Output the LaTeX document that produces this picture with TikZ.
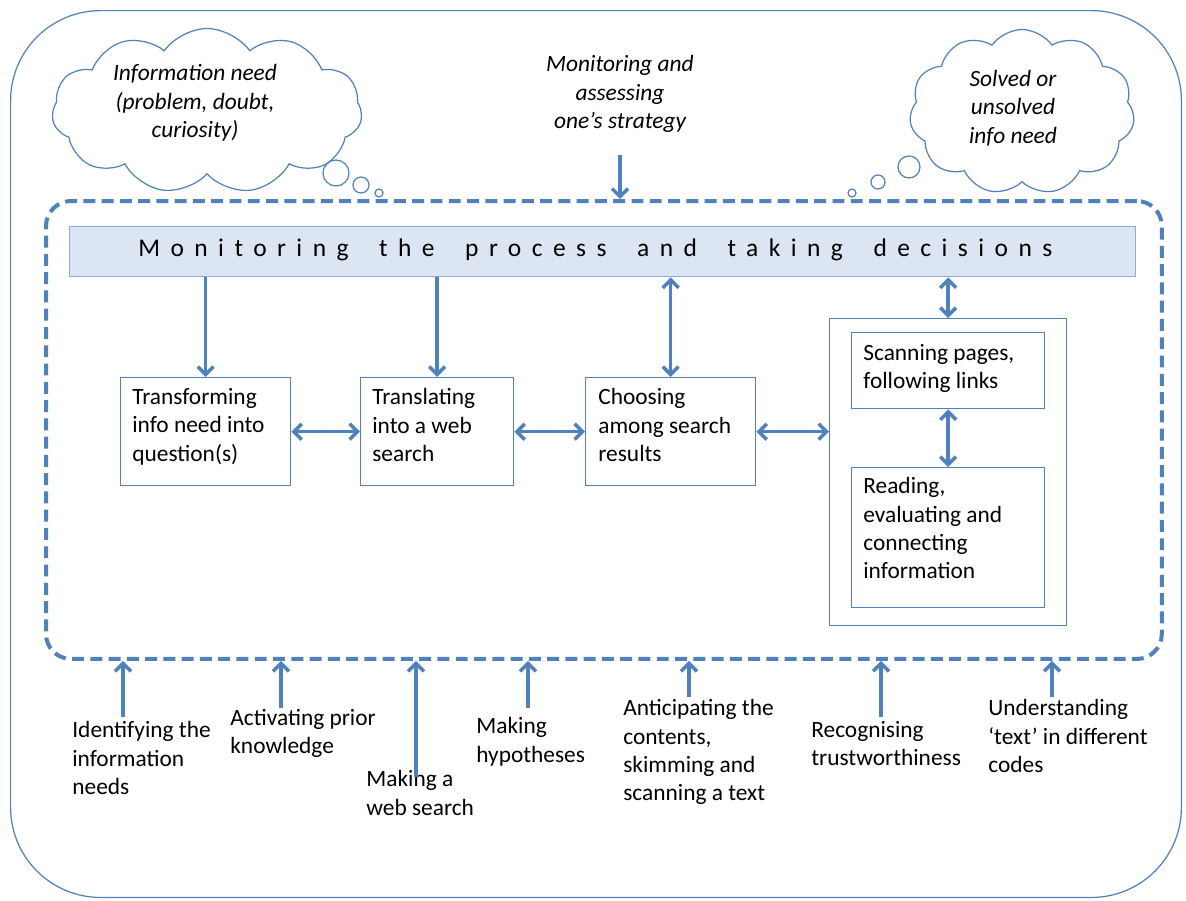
\documentclass[tikz,border=0pt]{standalone}
\usepackage{fontspec}
\setmainfont{Carlito}
\usetikzlibrary{arrows.meta,shapes.symbols,calc}
\definecolor{ob}{HTML}{4F81BD}
\definecolor{bfill}{HTML}{DCE6F2}
\definecolor{bline}{HTML}{8EAADB}
\begin{document}
\begin{tikzpicture}[x=0.02cm,y=-0.02cm,
  txt/.style={font=\fontsize{13.3pt}{16.2pt}\selectfont, text=black, inner sep=0pt},
  lbl/.style={txt, align=left, anchor=north west},
  itl/.style={font=\fontsize{13.3pt}{16.2pt}\selectfont\itshape, text=black, inner sep=0pt, align=center},
  procbox/.style={draw=ob, line width=0.8pt, anchor=north west, inner sep=0pt},
  arr/.style={ob, line width=2pt, -{Straight Barb[length=4.5pt,width=9pt]}},
  darr/.style={ob, line width=2pt, {Straight Barb[length=4.5pt,width=9pt]}-{Straight Barb[length=4.5pt,width=9pt]}},
  thought/.style={cloud, cloud puffs=11, cloud puff arc=110, draw=ob, line width=0.7pt, inner sep=0pt},
  bubble/.style={circle, draw=ob, line width=0.7pt, inner sep=0pt},
]
\useasboundingbox (0,0) rectangle (1186,900);

% outer frame
\node[draw=ob, line width=0.7pt, rounded corners=1.8cm, minimum width=23.42cm, minimum height=17.74cm, anchor=north west, inner sep=0pt] (outer) at (10,10) {};

% dashed area
\node[draw=ob, line width=2.3pt, dash pattern=on 6.8pt off 3.6pt, rounded corners=0.5cm, minimum width=22.32cm, minimum height=9.16cm, anchor=north west, inner sep=0pt] (D) at (44,199) {};

% clouds
\node[thought, minimum width=6.2cm, minimum height=3.3cm] (needcloud) at (207,111) {};
\node[itl] (need) at (195,103) {Information need\\(problem, doubt,\\curiosity)};
\node[bubble, minimum size=0.52cm] (nb1) at (336,173) {};
\node[bubble, minimum size=0.32cm] (nb2) at (361,185) {};
\node[bubble, minimum size=0.16cm] (nb3) at (379,193) {};

\node[thought, minimum width=4.5cm, minimum height=3.3cm] (solvedcloud) at (1022,112) {};
\node[itl] (solved) at (1013,108) {Solved or\\unsolved\\info need};
\node[bubble, minimum size=0.44cm] (sb1) at (909,167) {};
\node[bubble, minimum size=0.28cm] (sb2) at (878,182) {};
\node[bubble, minimum size=0.16cm] (sb3) at (852,193) {};

% top label
\node[itl, anchor=north] (assess) at (620,55) {Monitoring and\\assessing\\one’s strategy};

% banner
\node[draw=bline, fill=bfill, line width=0.8pt, minimum width=21.32cm, minimum height=1.0cm, anchor=north west, inner sep=0pt] (banner) at (69,226) {};
\node[inner sep=0pt, anchor=base west, font=\fontsize{14.5pt}{17pt}\selectfont] (bannertext) at (138,256) {\addfontfeature{LetterSpace=41}Monitoring\hspace{1.2em}the\hspace{1.2em}process\hspace{1.2em}and\hspace{1.2em}taking\hspace{1.2em}decisions};

% process boxes
\node[procbox, minimum width=3.4cm, minimum height=2.16cm] (B1) at (120,377) {};
\node[lbl] (B1t) at (132,388) {Transforming\\info need into\\question(s)};
\node[procbox, minimum width=3.06cm, minimum height=2.16cm] (B2) at (360,377) {};
\node[lbl] (B2t) at (372,388) {Translating\\into a web\\search};
\node[procbox, minimum width=3.4cm, minimum height=2.16cm] (B3) at (585,377) {};
\node[lbl] (B3t) at (598,388) {Choosing\\among search\\results};
\node[procbox, minimum width=4.74cm, minimum height=6.14cm] (C) at (829,318) {};
\node[procbox, minimum width=3.86cm, minimum height=1.52cm] (S) at (851,332) {};
\node[lbl] (St) at (863,344) {Scanning pages,\\following links};
\node[procbox, minimum width=3.86cm, minimum height=2.8cm] (R) at (851,467) {};
\node[lbl] (Rt) at (863,477) {Reading,\\evaluating and\\connecting\\information};

% connectors inside
\draw[arr] (B1.north |- banner.south) -- (B1.north);
\draw[arr] (B2.north |- banner.south) -- (B2.north);
\draw[darr] (B3.north |- banner.south) -- (B3.north);
\draw[darr] (S.north |- banner.south) -- (S.north |- C.north);
\draw[darr] (S.south) -- (R.north);
\draw[darr] (B1.east) -- (B2.west);
\draw[darr] (B2.east) -- (B3.west);
\draw[darr] (B3.east) -- (B3.east -| C.west);

% top arrow
\coordinate (ta) at (620,155);
\draw[arr] (ta) -- (ta |- D.north);

% bottom labels
\node[lbl] (L1) at (72,721) {Identifying the\\information\\needs};
\node[lbl] (L2) at (230,709) {Activating prior\\knowledge};
\node[lbl] (L3) at (366,770) {Making a\\web search};
\node[lbl] (L4) at (476,717) {Making\\hypotheses};
\node[lbl] (L5) at (623,699) {Anticipating the\\contents,\\skimming and\\scanning a text};
\node[lbl] (L6) at (811,721) {Recognising\\trustworthiness};
\node[lbl] (L7) at (988,699) {Understanding\\‘text’ in different\\codes};

\coordinate (a1) at (123,717);
\coordinate (a2) at (281,708);
\coordinate (a3) at (416,777);
\coordinate (a4) at (528,708);
\coordinate (a5) at (689,697);
\coordinate (a6) at (881,717);
\coordinate (a7) at (1052,697);
\foreach \p in {a1,a2,a3,a4,a5,a6,a7}
  \draw[arr] (\p) -- (\p |- D.south);
\end{tikzpicture}
\end{document}
